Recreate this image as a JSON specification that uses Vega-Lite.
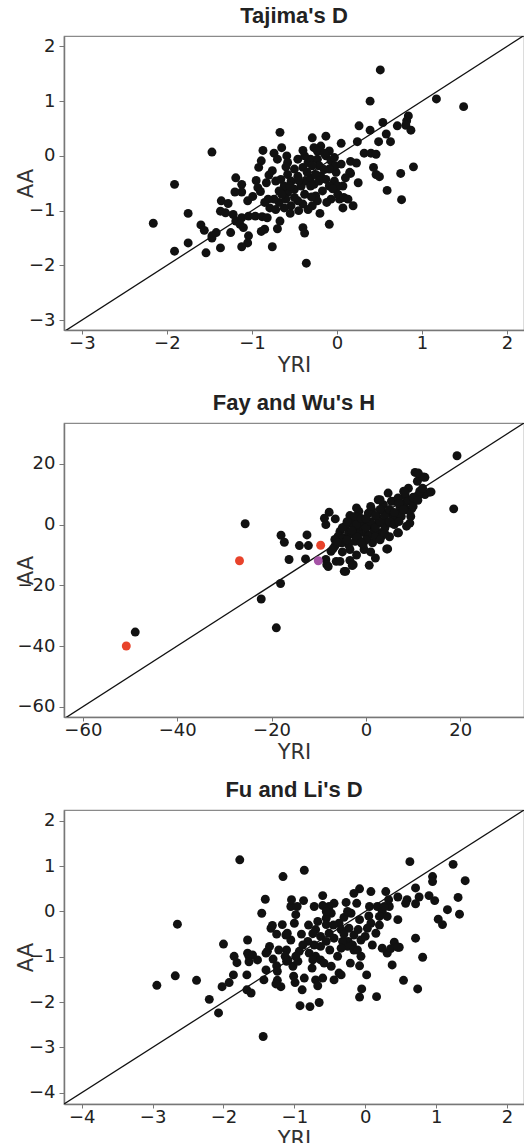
{
  "$schema": "https://vega.github.io/schema/vega-lite/v6.json",
  "padding": {"left": 14, "top": 4, "right": 1, "bottom": 0},
  "spacing": 15,
  "config": {
    "font": "DejaVu Sans",
    "view": {"stroke": "#8a8a8a", "strokeWidth": 1.2},
    "axis": {"grid": false, "domainColor": "#777", "domainWidth": 1.5, "tickColor": "#777", "tickSize": 5, "labelFontSize": 18, "labelColor": "#222", "titleFontSize": 21, "titleFontWeight": "normal", "titleColor": "#333", "format": "d", "labelFont": "DejaVu Sans", "titleFont": "DejaVu Sans"},
    "axisX": {"labelPadding": 0, "titlePadding": 2, "tickSize": 4},
    "axisY": {"labelPadding": 4, "titleX": -38, "titleY": 147, "titleBaseline": "middle"},
    "title": {"font": "Liberation Sans", "fontSize": 22, "fontWeight": "bold", "color": "#222", "offset": 8, "anchor": "middle"}
  },
  "datasets": {
    "line1": [{"YRI": -4, "AA": -4}, {"YRI": 3, "AA": 3}],
    "line2": [{"YRI": -70, "AA": -70}, {"YRI": 40, "AA": 40}],
    "line3": [{"YRI": -5, "AA": -5}, {"YRI": 3, "AA": 3}],
    "tajima": [
      {"YRI": 0.51, "AA": 1.57}, {"YRI": 0.39, "AA": 1.0}, {"YRI": 1.17, "AA": 1.04}, {"YRI": 1.49, "AA": 0.9},
      {"YRI": 0.84, "AA": 0.73}, {"YRI": 0.82, "AA": 0.64}, {"YRI": 0.81, "AA": 0.56}, {"YRI": 0.87, "AA": 0.47},
      {"YRI": 0.71, "AA": 0.55}, {"YRI": 0.54, "AA": 0.61}, {"YRI": 0.58, "AA": 0.4}, {"YRI": 0.63, "AA": 0.26},
      {"YRI": 0.49, "AA": 0.26}, {"YRI": 0.39, "AA": 0.47}, {"YRI": 0.26, "AA": 0.55}, {"YRI": 0.24, "AA": 0.26},
      {"YRI": 0.05, "AA": 0.23}, {"YRI": -0.67, "AA": 0.43}, {"YRI": -0.87, "AA": 0.1}, {"YRI": -1.47, "AA": 0.07},
      {"YRI": -0.29, "AA": 0.33}, {"YRI": -0.13, "AA": 0.36}, {"YRI": -0.19, "AA": 0.18}, {"YRI": -0.27, "AA": 0.15},
      {"YRI": -0.09, "AA": 0.09}, {"YRI": 0.32, "AA": 0.05}, {"YRI": 0.4, "AA": 0.05}, {"YRI": 0.46, "AA": 0.03},
      {"YRI": 0.16, "AA": -0.1}, {"YRI": 0.23, "AA": -0.13}, {"YRI": 0.9, "AA": -0.2}, {"YRI": 0.75, "AA": -0.32},
      {"YRI": 0.16, "AA": -0.32}, {"YRI": 0.25, "AA": -0.49}, {"YRI": 0.43, "AA": -0.21}, {"YRI": 0.46, "AA": -0.34},
      {"YRI": 0.5, "AA": -0.38}, {"YRI": 0.59, "AA": -0.63}, {"YRI": 0.76, "AA": -0.8}, {"YRI": 0.19, "AA": -0.91},
      {"YRI": 0.07, "AA": -0.95}, {"YRI": 0.03, "AA": -0.79}, {"YRI": 0.01, "AA": -0.7}, {"YRI": -0.09, "AA": -1.25},
      {"YRI": -0.4, "AA": -1.31}, {"YRI": -0.38, "AA": -1.41}, {"YRI": -0.36, "AA": -1.96}, {"YRI": -0.67, "AA": -1.19},
      {"YRI": -0.7, "AA": -1.33}, {"YRI": -0.85, "AA": -1.34}, {"YRI": -0.89, "AA": -1.38}, {"YRI": -0.76, "AA": -1.66},
      {"YRI": -1.04, "AA": -1.46}, {"YRI": -1.05, "AA": -1.59}, {"YRI": -1.12, "AA": -1.66}, {"YRI": -1.25, "AA": -1.4},
      {"YRI": -1.37, "AA": -1.68}, {"YRI": -1.54, "AA": -1.77}, {"YRI": -1.75, "AA": -1.59}, {"YRI": -1.91, "AA": -1.74},
      {"YRI": -2.16, "AA": -1.23}, {"YRI": -1.75, "AA": -1.05}, {"YRI": -1.91, "AA": -0.52}, {"YRI": -1.6, "AA": -1.26},
      {"YRI": -1.56, "AA": -1.36}, {"YRI": -1.47, "AA": -1.5}, {"YRI": -1.42, "AA": -1.4}, {"YRI": -1.47, "AA": -1.46},
      {"YRI": -1.36, "AA": -0.82}, {"YRI": -1.28, "AA": -0.87}, {"YRI": -1.37, "AA": -1.01}, {"YRI": -1.31, "AA": -1.04},
      {"YRI": -1.22, "AA": -1.07}, {"YRI": -1.19, "AA": -1.19}, {"YRI": -1.12, "AA": -1.13}, {"YRI": -1.14, "AA": -1.25},
      {"YRI": -1.1, "AA": -1.31}, {"YRI": -1.04, "AA": -1.1}, {"YRI": -0.96, "AA": -1.1}, {"YRI": -0.88, "AA": -1.11},
      {"YRI": -0.82, "AA": -1.13}, {"YRI": -1.19, "AA": -0.4}, {"YRI": -1.12, "AA": -0.52}, {"YRI": -1.12, "AA": -0.66},
      {"YRI": -1.2, "AA": -0.66}, {"YRI": -1.05, "AA": -0.82}, {"YRI": -0.99, "AA": -0.74}, {"YRI": -0.93, "AA": -0.58},
      {"YRI": -0.9, "AA": -0.65}, {"YRI": -0.89, "AA": -0.09}, {"YRI": -0.92, "AA": -0.21}, {"YRI": -0.83, "AA": -0.49},
      {"YRI": -0.74, "AA": 0.05}, {"YRI": -0.7, "AA": -0.06}, {"YRI": -0.59, "AA": 0.0}, {"YRI": -0.58, "AA": -0.12},
      {"YRI": -0.76, "AA": -0.27}, {"YRI": -0.72, "AA": -0.46}, {"YRI": -0.66, "AA": -0.43}, {"YRI": -0.58, "AA": -0.34},
      {"YRI": -0.5, "AA": -0.24}, {"YRI": -0.4, "AA": -0.21}, {"YRI": -0.34, "AA": -0.12}, {"YRI": -0.31, "AA": -0.06},
      {"YRI": -0.23, "AA": -0.06}, {"YRI": -0.13, "AA": 0.0}, {"YRI": -0.07, "AA": -0.09}, {"YRI": -0.03, "AA": -0.03},
      {"YRI": -0.01, "AA": -0.3}, {"YRI": -0.03, "AA": -0.46}, {"YRI": 0.07, "AA": -0.55}, {"YRI": 0.08, "AA": -0.76},
      {"YRI": -0.19, "AA": -0.37}, {"YRI": -0.13, "AA": -0.43}, {"YRI": -0.09, "AA": -0.55}, {"YRI": -0.17, "AA": -0.64},
      {"YRI": -0.25, "AA": -0.73}, {"YRI": -0.23, "AA": -0.82}, {"YRI": -0.29, "AA": -0.91}, {"YRI": -0.34, "AA": -0.98},
      {"YRI": -0.4, "AA": -0.88}, {"YRI": -0.46, "AA": -0.82}, {"YRI": -0.54, "AA": -0.91}, {"YRI": -0.62, "AA": -0.95},
      {"YRI": -0.68, "AA": -0.85}, {"YRI": -0.74, "AA": -0.79}, {"YRI": -0.81, "AA": -0.79}, {"YRI": -0.79, "AA": -0.95},
      {"YRI": -0.72, "AA": -0.98}, {"YRI": -0.58, "AA": -0.67}, {"YRI": -0.5, "AA": -0.61}, {"YRI": -0.42, "AA": -0.55},
      {"YRI": -0.36, "AA": -0.46}, {"YRI": -0.31, "AA": -0.4}, {"YRI": -0.25, "AA": -0.34}, {"YRI": -0.38, "AA": -0.7},
      {"YRI": -0.5, "AA": -0.76}, {"YRI": -0.6, "AA": -0.79}, {"YRI": -0.62, "AA": -0.55}, {"YRI": -0.68, "AA": -0.64},
      {"YRI": -0.54, "AA": -0.46}, {"YRI": -0.46, "AA": -0.37}, {"YRI": -0.31, "AA": -0.55}, {"YRI": -0.27, "AA": -0.52},
      {"YRI": -0.21, "AA": -0.46}, {"YRI": -0.21, "AA": -0.18}, {"YRI": -0.29, "AA": -0.18}, {"YRI": -0.46, "AA": -0.06},
      {"YRI": -0.38, "AA": 0.0}, {"YRI": -0.23, "AA": 0.09}, {"YRI": 0.15, "AA": -0.3}, {"YRI": 0.01, "AA": -0.55},
      {"YRI": -0.07, "AA": -0.79}, {"YRI": 0.13, "AA": -0.79}, {"YRI": -0.02, "AA": -0.18}, {"YRI": -0.09, "AA": -0.24},
      {"YRI": -0.6, "AA": -0.2}, {"YRI": -0.45, "AA": -0.45}, {"YRI": -0.35, "AA": -0.3}, {"YRI": -0.15, "AA": -0.25},
      {"YRI": -0.05, "AA": -0.6}, {"YRI": -0.55, "AA": -0.55}, {"YRI": -0.8, "AA": -0.35}, {"YRI": -0.95, "AA": -0.45},
      {"YRI": -0.65, "AA": -0.7}, {"YRI": -0.3, "AA": -0.75}, {"YRI": -0.12, "AA": -0.85}, {"YRI": -0.45, "AA": -1.0},
      {"YRI": -0.2, "AA": -1.05}, {"YRI": -0.85, "AA": -0.85}, {"YRI": -0.55, "AA": -1.05}, {"YRI": 0.05, "AA": -0.15},
      {"YRI": 0.1, "AA": -0.4}, {"YRI": -0.15, "AA": 0.05}, {"YRI": -0.4, "AA": 0.1}, {"YRI": -0.65, "AA": 0.15}
    ],
    "fay": [
      {"YRI": 19.3, "AA": 22.7, "g": "k"}, {"YRI": 18.6, "AA": 5.2, "g": "k"}, {"YRI": -25.6, "AA": 0.3, "g": "k"},
      {"YRI": -48.9, "AA": -35.4, "g": "k"}, {"YRI": -18.0, "AA": -3.5, "g": "k"}, {"YRI": -17.3, "AA": -5.8, "g": "k"},
      {"YRI": -12.5, "AA": -3.4, "g": "k"}, {"YRI": -14.1, "AA": -6.9, "g": "k"}, {"YRI": -12.2, "AA": -6.9, "g": "k"},
      {"YRI": -16.3, "AA": -11.5, "g": "k"}, {"YRI": -12.8, "AA": -11.3, "g": "k"}, {"YRI": -18.1, "AA": -19.4, "g": "k"},
      {"YRI": -22.2, "AA": -24.5, "g": "k"}, {"YRI": -19.0, "AA": -34.0, "g": "k"}, {"YRI": -8.8, "AA": 2.1, "g": "k"},
      {"YRI": -7.8, "AA": 4.1, "g": "k"}, {"YRI": -6.5, "AA": 1.9, "g": "k"}, {"YRI": -8.5, "AA": 0.0, "g": "k"},
      {"YRI": -7.4, "AA": -8.8, "g": "k"}, {"YRI": -8.5, "AA": -11.5, "g": "k"}, {"YRI": -8.3, "AA": -13.2, "g": "k"},
      {"YRI": -6.3, "AA": -12.1, "g": "k"}, {"YRI": -4.6, "AA": -15.4, "g": "k"}, {"YRI": -3.4, "AA": -11.8, "g": "k"},
      {"YRI": -2.7, "AA": -13.2, "g": "k"}, {"YRI": 0.7, "AA": -13.4, "g": "k"}, {"YRI": 4.4, "AA": -8.0, "g": "k"},
      {"YRI": 6.7, "AA": -2.7, "g": "k"}, {"YRI": 1.4, "AA": -6.0, "g": "k"}, {"YRI": -0.4, "AA": -8.2, "g": "k"},
      {"YRI": 10.4, "AA": 17.2, "g": "k"}, {"YRI": 10.9, "AA": 14.3, "g": "k"}, {"YRI": 12.1, "AA": 15.7, "g": "k"},
      {"YRI": 13.5, "AA": 10.7, "g": "k"}, {"YRI": 12.5, "AA": 9.9, "g": "k"}, {"YRI": 11.1, "AA": 9.6, "g": "k"},
      {"YRI": 9.3, "AA": 0.5, "g": "k"}, {"YRI": 9.5, "AA": 2.7, "g": "k"}, {"YRI": 9.7, "AA": 5.2, "g": "k"},
      {"YRI": 8.3, "AA": 7.1, "g": "k"}, {"YRI": 4.7, "AA": 10.4, "g": "k"}, {"YRI": 2.6, "AA": 8.2, "g": "k"},
      {"YRI": 6.1, "AA": 7.7, "g": "k"}, {"YRI": 7.2, "AA": 6.0, "g": "k"}, {"YRI": 8.3, "AA": 9.3, "g": "k"},
      {"YRI": 8.6, "AA": 4.9, "g": "k"}, {"YRI": 6.5, "AA": 2.2, "g": "k"}, {"YRI": -3.4, "AA": 3.0, "g": "k"},
      {"YRI": -1.5, "AA": 4.4, "g": "k"}, {"YRI": 0.5, "AA": 3.8, "g": "k"}, {"YRI": 1.2, "AA": 4.9, "g": "k"},
      {"YRI": 3.3, "AA": 4.9, "g": "k"}, {"YRI": 4.7, "AA": 3.8, "g": "k"}, {"YRI": 4.0, "AA": 1.1, "g": "k"},
      {"YRI": 2.6, "AA": 0.5, "g": "k"}, {"YRI": 1.2, "AA": -0.5, "g": "k"}, {"YRI": -0.2, "AA": 1.1, "g": "k"},
      {"YRI": -1.6, "AA": 1.6, "g": "k"}, {"YRI": -3.0, "AA": 0.5, "g": "k"}, {"YRI": -4.4, "AA": -0.5, "g": "k"},
      {"YRI": -5.5, "AA": -2.2, "g": "k"}, {"YRI": -5.9, "AA": -3.8, "g": "k"}, {"YRI": -4.8, "AA": -4.4, "g": "k"},
      {"YRI": -3.7, "AA": -2.7, "g": "k"}, {"YRI": -2.3, "AA": -1.6, "g": "k"}, {"YRI": -1.3, "AA": -2.7, "g": "k"},
      {"YRI": 0.1, "AA": -3.3, "g": "k"}, {"YRI": 1.6, "AA": -2.2, "g": "k"}, {"YRI": 3.0, "AA": -2.7, "g": "k"},
      {"YRI": 3.3, "AA": -3.8, "g": "k"}, {"YRI": 1.9, "AA": -0.5, "g": "k"}, {"YRI": -1.6, "AA": -4.9, "g": "k"},
      {"YRI": -3.7, "AA": -6.6, "g": "k"}, {"YRI": -2.3, "AA": -5.5, "g": "k"}, {"YRI": -0.6, "AA": -6.6, "g": "k"},
      {"YRI": -5.1, "AA": -6.0, "g": "k"}, {"YRI": -6.6, "AA": -4.9, "g": "k"}, {"YRI": -3.4, "AA": -8.2, "g": "k"},
      {"YRI": -6.6, "AA": -7.1, "g": "k"}, {"YRI": 4.0, "AA": -1.1, "g": "k"}, {"YRI": 5.1, "AA": 0.5, "g": "k"},
      {"YRI": 5.8, "AA": 2.7, "g": "k"}, {"YRI": 7.2, "AA": 4.4, "g": "k"}, {"YRI": -2.3, "AA": 2.7, "g": "k"},
      {"YRI": -0.9, "AA": -0.5, "g": "k"}, {"YRI": 0.5, "AA": -3.8, "g": "k"}, {"YRI": 2.3, "AA": 2.7, "g": "k"},
      {"YRI": 3.7, "AA": 6.6, "g": "k"}, {"YRI": 5.4, "AA": 7.7, "g": "k"}, {"YRI": 6.8, "AA": 8.8, "g": "k"},
      {"YRI": 9.7, "AA": 7.7, "g": "k"}, {"YRI": 11.4, "AA": 11.0, "g": "k"}, {"YRI": 7.5, "AA": 2.7, "g": "k"},
      {"YRI": 8.6, "AA": -0.5, "g": "k"},
      {"YRI": -5, "AA": -1, "g": "k"}, {"YRI": -4, "AA": 1, "g": "k"}, {"YRI": -3, "AA": -3, "g": "k"},
      {"YRI": -2, "AA": 0, "g": "k"}, {"YRI": -1, "AA": 2, "g": "k"}, {"YRI": 0, "AA": -1, "g": "k"},
      {"YRI": 1, "AA": 1, "g": "k"}, {"YRI": 2, "AA": -1, "g": "k"}, {"YRI": 3, "AA": 1, "g": "k"},
      {"YRI": 4, "AA": 3, "g": "k"}, {"YRI": 5, "AA": 5, "g": "k"}, {"YRI": 6, "AA": 4, "g": "k"},
      {"YRI": 7, "AA": 7, "g": "k"}, {"YRI": 8, "AA": 5, "g": "k"}, {"YRI": 9, "AA": 8, "g": "k"},
      {"YRI": 10, "AA": 9, "g": "k"}, {"YRI": -2, "AA": -4, "g": "k"}, {"YRI": 0, "AA": -5, "g": "k"},
      {"YRI": 2, "AA": -4, "g": "k"}, {"YRI": 4, "AA": -3, "g": "k"}, {"YRI": 5, "AA": 1, "g": "k"},
      {"YRI": 6, "AA": 0, "g": "k"}, {"YRI": 7, "AA": 1, "g": "k"}, {"YRI": 3, "AA": 5, "g": "k"},
      {"YRI": 1, "AA": 6, "g": "k"}, {"YRI": -1, "AA": -6, "g": "k"}, {"YRI": -4, "AA": -5, "g": "k"},
      {"YRI": 0, "AA": 2, "g": "k"}, {"YRI": 2, "AA": 3, "g": "k"}, {"YRI": 3, "AA": -5, "g": "k"},
      {"YRI": 5, "AA": -4, "g": "k"}, {"YRI": -3, "AA": -2, "g": "k"}, {"YRI": 10, "AA": 6, "g": "k"},
      {"YRI": 11, "AA": 8, "g": "k"}, {"YRI": 12, "AA": 12, "g": "k"}, {"YRI": 9, "AA": 12, "g": "k"},
      {"YRI": 8, "AA": 11, "g": "k"}, {"YRI": -6, "AA": -6, "g": "k"}, {"YRI": -7, "AA": -8, "g": "k"},
      {"YRI": 1, "AA": -9, "g": "k"}, {"YRI": -2, "AA": -10, "g": "k"}, {"YRI": 2, "AA": -11, "g": "k"},
      {"YRI": -5, "AA": -9, "g": "k"}, {"YRI": -2.0, "AA": 5.5, "g": "k"}, {"YRI": 3.0, "AA": 8.2, "g": "k"},
      {"YRI": 8.3, "AA": 10.4, "g": "k"}, {"YRI": 11.1, "AA": 17.0, "g": "k"}, {"YRI": 12.5, "AA": 15.6, "g": "k"},
      {"YRI": 13.8, "AA": 10.8, "g": "k"}, {"YRI": 6.9, "AA": -2.7, "g": "k"}, {"YRI": 4.6, "AA": -8.0, "g": "k"},
      {"YRI": -4.3, "AA": -15.4, "g": "k"}, {"YRI": -2.9, "AA": -13.5, "g": "k"}, {"YRI": -8.0, "AA": -13.8, "g": "k"},
      {"YRI": -5.5, "AA": -12.1, "g": "k"},
      {"YRI": -50.8, "AA": -40.0, "g": "r"}, {"YRI": -26.8, "AA": -11.9, "g": "r"}, {"YRI": -9.6, "AA": -6.8, "g": "r"},
      {"YRI": -10.1, "AA": -11.9, "g": "p"}
    ],
    "fuli": [
      {"YRI": -1.77, "AA": 1.14}, {"YRI": -0.86, "AA": 0.91}, {"YRI": -1.16, "AA": 0.77}, {"YRI": 0.63, "AA": 1.1},
      {"YRI": 1.24, "AA": 1.04}, {"YRI": 0.95, "AA": 0.77}, {"YRI": 0.95, "AA": 0.66}, {"YRI": 1.41, "AA": 0.68},
      {"YRI": 0.71, "AA": 0.52}, {"YRI": 1.31, "AA": 0.31}, {"YRI": 0.98, "AA": 0.24}, {"YRI": 0.9, "AA": 0.35},
      {"YRI": 1.16, "AA": 0.04}, {"YRI": 1.33, "AA": -0.06}, {"YRI": 1.03, "AA": -0.17}, {"YRI": 1.09, "AA": -0.29},
      {"YRI": 0.71, "AA": -0.59}, {"YRI": 0.81, "AA": -1.01}, {"YRI": 0.74, "AA": -1.71}, {"YRI": 0.54, "AA": -1.52},
      {"YRI": 0.16, "AA": -1.88}, {"YRI": -0.08, "AA": -1.89}, {"YRI": -0.05, "AA": -1.71}, {"YRI": 0.02, "AA": -1.4},
      {"YRI": -0.08, "AA": -1.2}, {"YRI": 0.38, "AA": -1.18}, {"YRI": 0.41, "AA": -0.68}, {"YRI": 0.48, "AA": -0.79},
      {"YRI": 0.31, "AA": -0.92}, {"YRI": 0.24, "AA": -0.81}, {"YRI": 0.76, "AA": 0.32}, {"YRI": 0.59, "AA": 0.26},
      {"YRI": 0.57, "AA": 0.18}, {"YRI": 0.71, "AA": 0.17}, {"YRI": 0.46, "AA": 0.32}, {"YRI": 0.29, "AA": 0.44},
      {"YRI": 0.08, "AA": 0.44}, {"YRI": -0.08, "AA": 0.5}, {"YRI": -0.16, "AA": 0.4}, {"YRI": -0.12, "AA": 0.18},
      {"YRI": -0.27, "AA": 0.2}, {"YRI": -0.2, "AA": -0.04}, {"YRI": 0.17, "AA": 0.11}, {"YRI": 0.24, "AA": 0.0},
      {"YRI": 0.34, "AA": 0.11}, {"YRI": 0.31, "AA": -0.11}, {"YRI": 0.46, "AA": -0.18}, {"YRI": 0.2, "AA": -0.11},
      {"YRI": 0.08, "AA": -0.26}, {"YRI": 0.15, "AA": -0.48}, {"YRI": 0.03, "AA": -0.37}, {"YRI": -0.08, "AA": -0.18},
      {"YRI": -0.06, "AA": -0.63}, {"YRI": -0.16, "AA": -0.52}, {"YRI": -0.23, "AA": -0.37}, {"YRI": -0.37, "AA": -0.26},
      {"YRI": -0.34, "AA": -0.4}, {"YRI": -0.44, "AA": 0.18}, {"YRI": -0.51, "AA": 0.11}, {"YRI": -0.6, "AA": 0.35},
      {"YRI": -0.72, "AA": 0.11}, {"YRI": -0.6, "AA": 0.13}, {"YRI": -0.48, "AA": -0.04}, {"YRI": -0.55, "AA": -0.15},
      {"YRI": -0.55, "AA": -0.29}, {"YRI": -0.67, "AA": -0.22}, {"YRI": -0.7, "AA": -0.4}, {"YRI": -0.74, "AA": -0.49},
      {"YRI": -0.63, "AA": -0.55}, {"YRI": -0.51, "AA": -0.48}, {"YRI": -0.44, "AA": -0.59}, {"YRI": -0.55, "AA": -0.66},
      {"YRI": -0.63, "AA": -0.77}, {"YRI": -0.72, "AA": -0.74}, {"YRI": -0.81, "AA": -0.66}, {"YRI": -0.88, "AA": -0.74},
      {"YRI": -0.93, "AA": -0.88}, {"YRI": -0.79, "AA": -0.92}, {"YRI": -0.7, "AA": -0.99}, {"YRI": -0.74, "AA": -1.07},
      {"YRI": -0.63, "AA": -1.07}, {"YRI": -0.58, "AA": -1.14}, {"YRI": -0.48, "AA": -1.21}, {"YRI": -0.39, "AA": -0.99},
      {"YRI": -0.37, "AA": -1.36}, {"YRI": -0.34, "AA": -1.4}, {"YRI": -0.44, "AA": -1.51}, {"YRI": -0.6, "AA": -1.47},
      {"YRI": -0.7, "AA": -1.51}, {"YRI": -0.67, "AA": -1.64}, {"YRI": -0.65, "AA": -2.01}, {"YRI": -0.78, "AA": -2.1},
      {"YRI": -0.92, "AA": -2.08}, {"YRI": -0.89, "AA": -1.73}, {"YRI": -0.86, "AA": -1.47}, {"YRI": -0.99, "AA": -1.57},
      {"YRI": -1.01, "AA": -1.43}, {"YRI": -1.02, "AA": -1.21}, {"YRI": -0.95, "AA": -1.1}, {"YRI": -0.98, "AA": -0.99},
      {"YRI": -1.09, "AA": -1.07}, {"YRI": -1.11, "AA": -0.85}, {"YRI": -1.05, "AA": -0.63}, {"YRI": -1.12, "AA": -0.52},
      {"YRI": -1.17, "AA": -0.29}, {"YRI": -1.1, "AA": -0.48}, {"YRI": -1.0, "AA": -0.26}, {"YRI": -0.98, "AA": -0.07},
      {"YRI": -1.05, "AA": 0.11}, {"YRI": -1.04, "AA": 0.26}, {"YRI": -0.96, "AA": 0.11}, {"YRI": -0.87, "AA": 0.24},
      {"YRI": -1.33, "AA": -0.37}, {"YRI": -1.31, "AA": -0.31}, {"YRI": -1.46, "AA": -0.04}, {"YRI": -1.41, "AA": 0.27},
      {"YRI": -1.22, "AA": -0.85}, {"YRI": -1.38, "AA": -0.88}, {"YRI": -1.35, "AA": -0.77}, {"YRI": -1.4, "AA": -0.92},
      {"YRI": -1.52, "AA": -1.07}, {"YRI": -1.64, "AA": -0.99}, {"YRI": -1.66, "AA": -0.92}, {"YRI": -1.59, "AA": -0.96},
      {"YRI": -1.66, "AA": -0.63}, {"YRI": -1.64, "AA": -1.11}, {"YRI": -1.81, "AA": -1.13}, {"YRI": -1.85, "AA": -0.99},
      {"YRI": -1.86, "AA": -1.4}, {"YRI": -1.92, "AA": -1.57}, {"YRI": -2.02, "AA": -1.66}, {"YRI": -2.0, "AA": -0.72},
      {"YRI": -1.67, "AA": -1.4}, {"YRI": -1.67, "AA": -1.73}, {"YRI": -1.61, "AA": -1.8}, {"YRI": -1.43, "AA": -1.51},
      {"YRI": -1.4, "AA": -1.29}, {"YRI": -1.25, "AA": -1.2}, {"YRI": -1.24, "AA": -1.32}, {"YRI": -1.24, "AA": -1.52},
      {"YRI": -1.19, "AA": -1.66}, {"YRI": -1.26, "AA": -1.6}, {"YRI": -1.13, "AA": -0.99}, {"YRI": -1.11, "AA": -1.1},
      {"YRI": -2.2, "AA": -1.94}, {"YRI": -2.07, "AA": -2.24}, {"YRI": -2.38, "AA": -1.52}, {"YRI": -2.68, "AA": -1.42},
      {"YRI": -2.94, "AA": -1.63}, {"YRI": -2.65, "AA": -0.28}, {"YRI": -1.44, "AA": -2.76}, {"YRI": -0.3, "AA": -0.13},
      {"YRI": -0.24, "AA": -0.66}, {"YRI": -0.18, "AA": -0.74}, {"YRI": -0.25, "AA": -0.77}, {"YRI": -0.16, "AA": -0.85},
      {"YRI": -0.32, "AA": -0.66}, {"YRI": -0.34, "AA": -0.81}, {"YRI": -0.21, "AA": -1.14}, {"YRI": -0.06, "AA": -0.99},
      {"YRI": -0.11, "AA": -0.85}, {"YRI": 0.1, "AA": -0.74}, {"YRI": 0.06, "AA": 0.11}, {"YRI": 0.27, "AA": 0.11},
      {"YRI": 0.33, "AA": 0.26}, {"YRI": 0.36, "AA": -0.82}, {"YRI": 0.46, "AA": -0.79},
      {"YRI": -0.45, "AA": -0.3}, {"YRI": -0.3, "AA": -0.5}, {"YRI": -0.1, "AA": -0.4}, {"YRI": 0.0, "AA": -0.55},
      {"YRI": -0.8, "AA": -0.3}, {"YRI": -0.9, "AA": -0.5}, {"YRI": -0.5, "AA": -0.85}, {"YRI": -0.25, "AA": 0.0},
      {"YRI": 0.2, "AA": -0.3}, {"YRI": 0.05, "AA": -0.1}, {"YRI": -1.25, "AA": -0.5}, {"YRI": -1.3, "AA": -1.05},
      {"YRI": -0.55, "AA": 0.0}, {"YRI": -0.75, "AA": -1.25}
    ]
  },
  "vconcat": [
    {
      "title": "Tajima's D",
      "width": 460,
      "height": 294,
      "layer": [
        {
          "data": {"name": "line1"},
          "mark": {"type": "line", "color": "#111", "strokeWidth": 1.3, "clip": true},
          "encoding": {
            "x": {"field": "YRI", "type": "quantitative", "scale": {"domain": [-3.21, 2.2], "nice": false, "zero": false}, "axis": {"values": [-3, -2, -1, 0, 1, 2], "title": "YRI"}},
            "y": {"field": "AA", "type": "quantitative", "scale": {"domain": [-3.18, 2.19], "nice": false, "zero": false}, "axis": {"values": [-3, -2, -1, 0, 1, 2], "title": "AA"}}
          }
        },
        {
          "data": {"name": "tajima"},
          "mark": {"type": "circle", "size": 80, "opacity": 1, "color": "#111"},
          "encoding": {
            "x": {"field": "YRI", "type": "quantitative"},
            "y": {"field": "AA", "type": "quantitative"}
          }
        }
      ]
    },
    {
      "title": "Fay and Wu's H",
      "width": 460,
      "height": 294,
      "layer": [
        {
          "data": {"name": "line2"},
          "mark": {"type": "line", "color": "#111", "strokeWidth": 1.3, "clip": true},
          "encoding": {
            "x": {"field": "YRI", "type": "quantitative", "scale": {"domain": [-64, 33.5], "nice": false, "zero": false}, "axis": {"values": [-60, -40, -20, 0, 20], "title": "YRI"}},
            "y": {"field": "AA", "type": "quantitative", "scale": {"domain": [-63.4, 33.5], "nice": false, "zero": false}, "axis": {"values": [-60, -40, -20, 0, 20], "title": "AA"}}
          }
        },
        {
          "data": {"name": "fay"},
          "mark": {"type": "circle", "size": 80, "opacity": 1},
          "encoding": {
            "x": {"field": "YRI", "type": "quantitative"},
            "y": {"field": "AA", "type": "quantitative"},
            "color": {"field": "g", "type": "nominal", "scale": {"domain": ["k", "r", "p"], "range": ["#111111", "#e8432b", "#a553a6"]}, "legend": null}
          }
        }
      ]
    },
    {
      "title": "Fu and Li's D",
      "width": 460,
      "height": 294,
      "layer": [
        {
          "data": {"name": "line3"},
          "mark": {"type": "line", "color": "#111", "strokeWidth": 1.3, "clip": true},
          "encoding": {
            "x": {"field": "YRI", "type": "quantitative", "scale": {"domain": [-4.25, 2.24], "nice": false, "zero": false}, "axis": {"values": [-4, -3, -2, -1, 0, 1, 2], "title": "YRI"}},
            "y": {"field": "AA", "type": "quantitative", "scale": {"domain": [-4.25, 2.24], "nice": false, "zero": false}, "axis": {"values": [-4, -3, -2, -1, 0, 1, 2], "title": "AA"}}
          }
        },
        {
          "data": {"name": "fuli"},
          "mark": {"type": "circle", "size": 80, "opacity": 1, "color": "#111"},
          "encoding": {
            "x": {"field": "YRI", "type": "quantitative"},
            "y": {"field": "AA", "type": "quantitative"}
          }
        }
      ]
    }
  ]
}
